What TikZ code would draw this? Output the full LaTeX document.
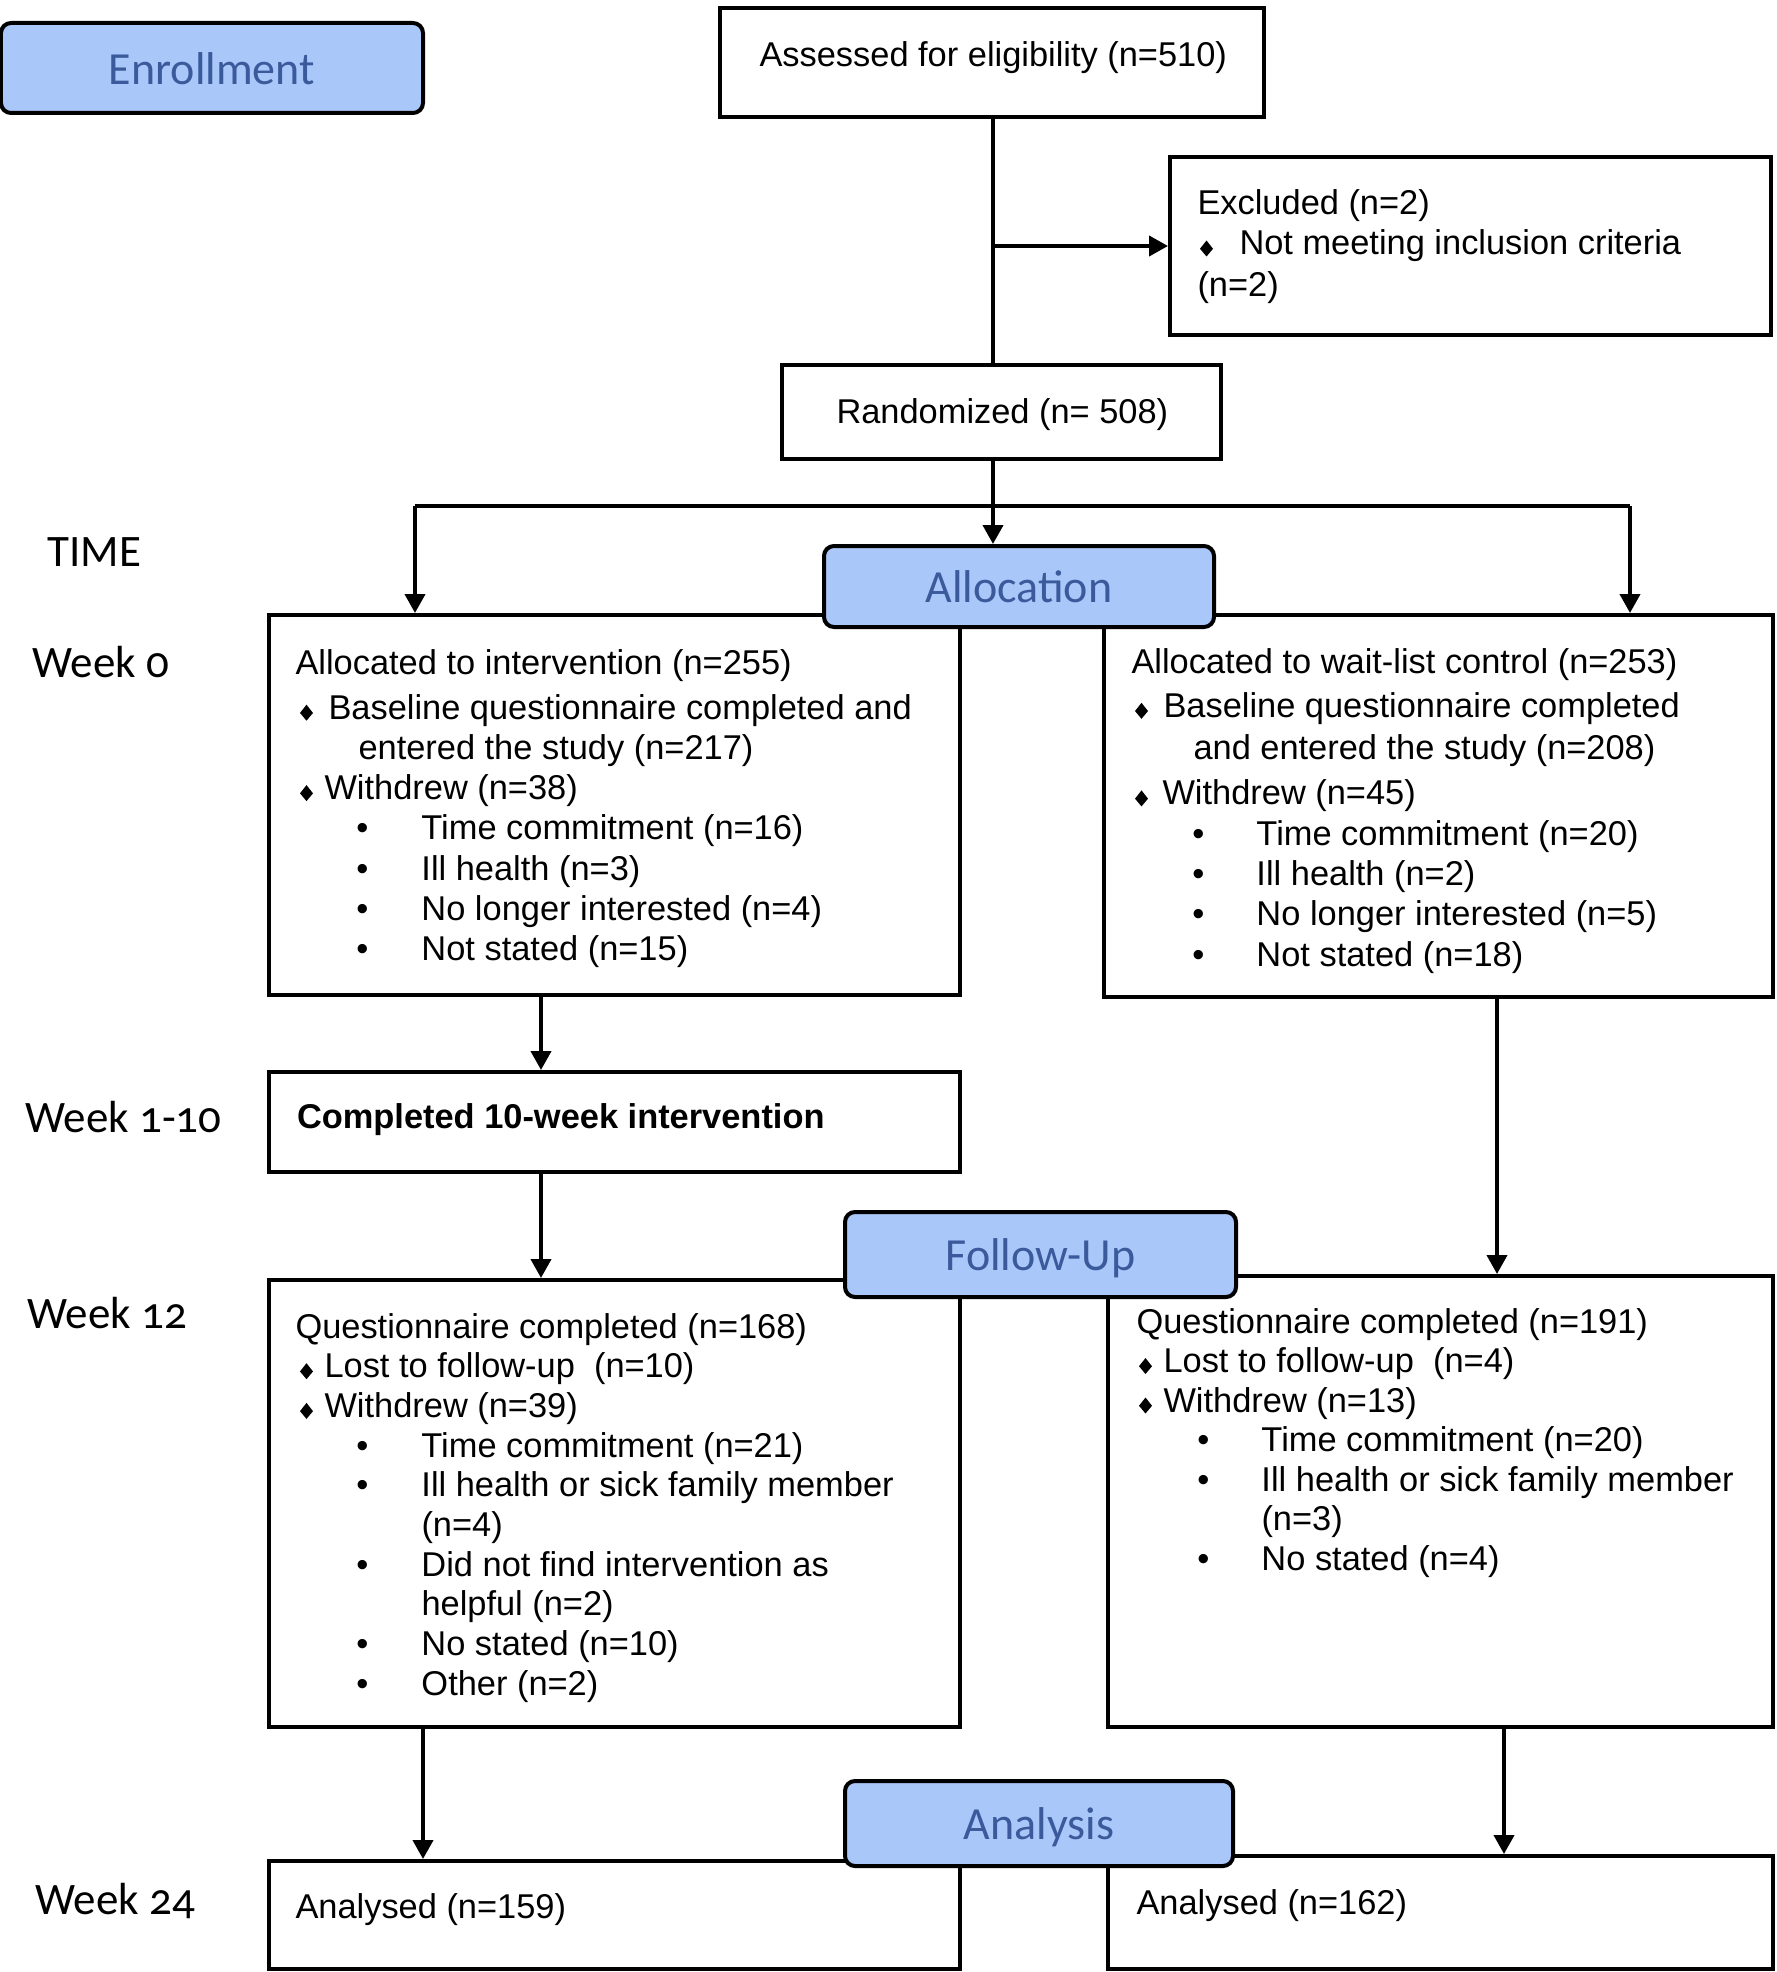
\documentclass[tikz,border=0pt]{standalone}
\usepackage{fontspec}
\setmainfont{Liberation Sans}
\newfontfamily\calibweek[Numbers=OldStyle]{Carlito}
\newfontfamily\calibstage{Carlito}
\usetikzlibrary{arrows.meta,fit}
\definecolor{stagefill}{RGB}{170,199,250}
\definecolor{stagetext}{RGB}{58,90,155}
\newdimen\px \px=0.4pt
\newcommand\dmd{\tikz[baseline=0pt]\fill (0pt,-0.6pt)--(2.6pt,2.5pt)--(0pt,5.8pt)--(-2.6pt,2.5pt)--cycle;}
\newcommand\Lp[2]{\hbox{\hskip#1\px\relax #2}}
\newcommand\Ld[3]{\hbox{\hskip#1\px\relax\makebox[0pt]{\dmd}\hskip-#1\px\relax\hskip#2\px\relax #3}}
\newcommand\Lb[3]{\hbox{\hskip#1\px\relax\makebox[0pt]{\textbullet}\hskip-#1\px\relax\hskip#2\px\relax #3}}
\newcommand\Lines[2]{\vtop{\baselineskip=#1\px\lineskiplimit=-\maxdimen\lineskip=0pt #2}}
\tikzset{
  boxtext/.style={font=\fontsize{13.76pt}{16pt}\selectfont},
  wbox/.style={draw, line width=1.6pt, inner sep=0pt},
  stagebox/.style={draw, line width=1.6pt, rounded corners=4pt, fill=stagefill, text=stagetext,
    font=\calibstage\fontsize{18.4pt}{20pt}\selectfont, text height=13pt, text depth=0pt, inner sep=0pt},
  txt/.style={anchor=base west, inner sep=0pt, boxtext},
  weektxt/.style={anchor=base west, inner sep=0pt, font=\calibweek\fontsize{18pt}{20pt}\selectfont},
  arr/.style={line width=1.6pt, -{Triangle[length=7.6pt,width=8pt]}},
  conn/.style={line width=1.6pt}
}
\begin{document}
\begin{tikzpicture}[x=0.4pt,y=-0.4pt]
\useasboundingbox (0,0) rectangle (1776,1972);

% plain boxes
\node[wbox, fit={(720,8) (1264,117)}] (assessed) {};
\node[wbox, fit={(1170,157) (1771,335)}] (excluded) {};
\node[wbox, fit={(782,365) (1221,459)}] (randomized) {};
\node[wbox, fit={(269,615) (960,995)}] (left1) {};
\node[wbox, fit={(1104,615) (1773,997)}] (right1) {};
\node[wbox, fit={(269,1072) (960,1172)}] (completed) {};
\node[wbox, fit={(269,1280) (960,1727)}] (left2) {};
\node[wbox, fit={(1108,1276) (1773,1727)}] (right2) {};
\node[wbox, fit={(269,1861) (960,1969)}] (left3) {};
\node[wbox, fit={(1108,1856) (1773,1969)}] (right3) {};

% connector x positions
\coordinate (spine) at (993,506);
\coordinate (brL) at (415,506);
\coordinate (brR) at (1630,506);
\coordinate (cA) at (541,0);
\coordinate (cB) at (1497,0);
\coordinate (cC) at (423,0);
\coordinate (cD) at (1504,0);

% stage boxes
\node[stagebox, minimum width=168.8pt, minimum height=36pt] (enroll) at (212,68) {Enrollment};
\node[stagebox, minimum width=156pt, minimum height=32.4pt] (alloc) at (1019,586.5) {Allocation};
\node[stagebox, minimum width=156.4pt, minimum height=34pt] (follow) at (1040.5,1254.5) {Follow-Up};
\node[stagebox, minimum width=155.2pt, minimum height=34pt] (analysis) at (1039,1823.5) {Analysis};

% connectors
\draw[conn] (assessed.south -| spine) -- (randomized.north -| spine);
\draw[arr] (spine |- excluded.west) -- (excluded.west);
\draw[arr] (randomized.south -| spine) -- (alloc.north -| spine);
\draw[conn] (brL) -- (brR);
\draw[arr] (brL) -- (left1.north -| brL);
\draw[arr] (brR) -- (right1.north -| brR);
\draw[arr] (left1.south -| cA) -- (completed.north -| cA);
\draw[arr] (completed.south -| cA) -- (left2.north -| cA);
\draw[arr] (right1.south -| cB) -- (right2.north -| cB);
\draw[arr] (left2.south -| cC) -- (left3.north -| cC);
\draw[arr] (right2.south -| cD) -- (right3.north -| cD);

% texts
\node[txt] (tassessed) at (759,67) {Assessed for eligibility (n=510)};
\node[txt] (texcluded) at (1197,214) {\Lines{41}{%
  \Lp{0}{Excluded (n=2)}
  \Ld{9}{42}{Not meeting inclusion criteria}
  \Lp{0}{(n=2)}}};
\node[txt] (trandom) at (836,423) {Randomized (n= 508)};
\node[txt] (tleft1) at (295,674) {\Lines{40.2}{%
  \Lp{0}{Allocated to intervention (n=255)}
  \vskip5\px
  \Ld{11}{33}{Baseline questionnaire completed and}
  \Lp{63}{entered the study (n=217)}
  \Ld{11}{29}{Withdrew (n=38)}
  \Lb{67}{126}{Time commitment (n=16)}
  \Lb{67}{126}{Ill health (n=3)}
  \Lb{67}{126}{No longer interested (n=4)}
  \Lb{67}{126}{Not stated (n=15)}}};
\node[txt] (tright1) at (1131,673) {\Lines{40.3}{%
  \Lp{0}{Allocated to wait-list control (n=253)}
  \vskip4\px
  \Ld{10}{32}{Baseline questionnaire completed}
  \vskip2\px
  \Lp{62}{and entered the study (n=208)}
  \vskip5\px
  \Ld{10}{31}{Withdrew (n=45)}
  \Lb{67}{125}{Time commitment (n=20)}
  \Lb{67}{125}{Ill health (n=2)}
  \Lb{67}{125}{No longer interested (n=5)}
  \Lb{67}{125}{Not stated (n=18)}}};
\node[txt, font=\fontsize{13.76pt}{16pt}\selectfont\bfseries] (tcompleted) at (296.5,1128) {Completed 10-week intervention};
\node[txt] (tleft2) at (295,1338) {\Lines{39.7}{%
  \Lp{0}{Questionnaire completed (n=168)}
  \Ld{11}{29}{Lost to follow-up\ \ (n=10)}
  \Ld{11}{29}{Withdrew (n=39)}
  \Lb{67}{126}{Time commitment (n=21)}
  \Lb{67}{126}{Ill health or sick family member}
  \Lp{126}{(n=4)}
  \Lb{67}{126}{Did not find intervention as}
  \Lp{126}{helpful (n=2)}
  \Lb{67}{126}{No stated (n=10)}
  \Lb{67}{126}{Other (n=2)}}};
\node[txt] (tright2) at (1136,1333) {\Lines{39.5}{%
  \Lp{0}{Questionnaire completed (n=191)}
  \Ld{9}{27}{Lost to follow-up\ \ (n=4)}
  \Ld{9}{27}{Withdrew (n=13)}
  \Lb{67}{125}{Time commitment (n=20)}
  \Lb{67}{125}{Ill health or sick family member}
  \Lp{125}{(n=3)}
  \Lb{67}{125}{No stated (n=4)}}};
\node[txt] (tleft3) at (295,1918) {Analysed (n=159)};
\node[txt] (tright3) at (1136,1914) {Analysed (n=162)};

% time labels
\node[weektxt] (wtime) at (47,566) {TIME};
\node[weektxt] (w0) at (32,677) {Week 0};
\node[weektxt] (w110) at (25,1132) {Week 1-10};
\node[weektxt] (w12) at (27,1328) {Week 12};
\node[weektxt] (w24) at (35,1914) {Week 24};
\end{tikzpicture}
\end{document}
